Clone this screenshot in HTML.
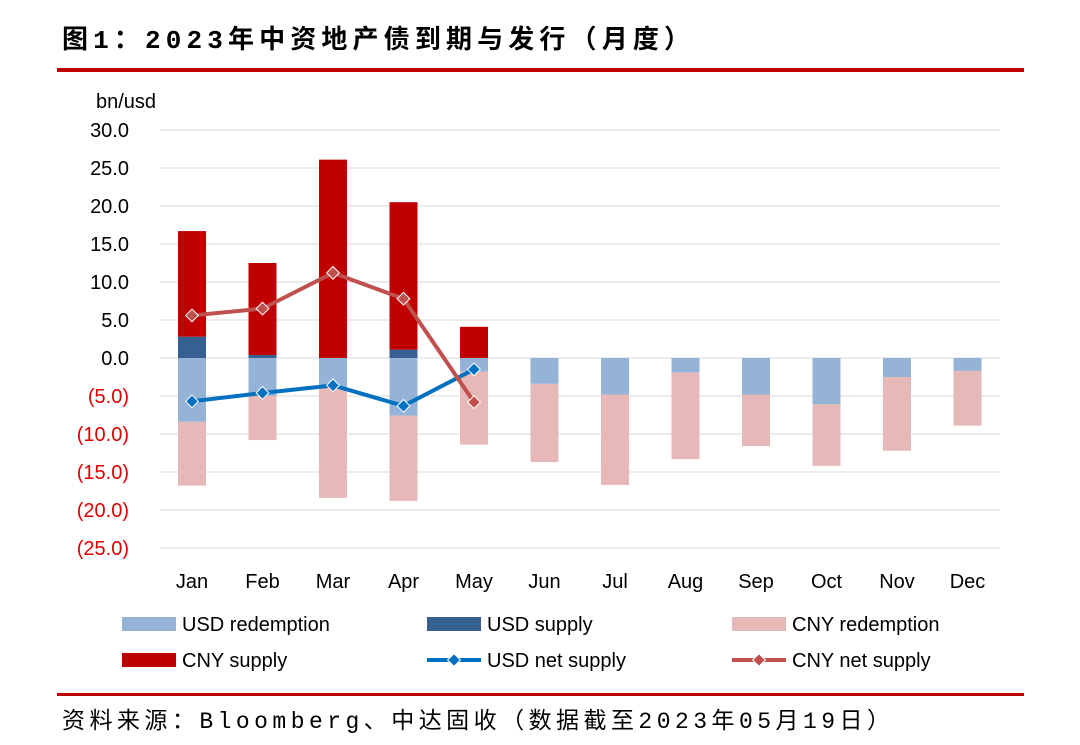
<!DOCTYPE html>
<html><head><meta charset="utf-8"><style>
body{margin:0;background:#fff;width:1080px;height:740px;overflow:hidden;font-family:"Liberation Sans","Noto Sans CJK SC",sans-serif}
</style></head><body>
<svg id="c" width="1080" height="740" xmlns="http://www.w3.org/2000/svg">
<text x="62" y="48" font-size="26" font-weight="bold" textLength="628" lengthAdjust="spacing" font-family="'Liberation Mono','Noto Sans CJK SC',monospace" fill="#000">图1：2023年中资地产债到期与发行（月度）</text>
<rect x="57" y="68" width="967" height="4" fill="#c00000"/>
<text x="96" y="108" font-size="20" fill="#000">bn/usd</text>
<g id="grid"></g><g id="bars"></g><g id="lines"></g><g id="labels"></g>
<g id="legend"></g>
<rect x="57" y="693" width="967" height="3" fill="#c00000"/>
<text x="62" y="728" font-size="23" textLength="828" lengthAdjust="spacing" font-family="'Liberation Mono','Noto Sans CJK SC',monospace" fill="#000">资料来源：Bloomberg、中达固收（数据截至2023年05月19日）</text>
</svg>
<script>
const months=["Jan","Feb","Mar","Apr","May","Jun","Jul","Aug","Sep","Oct","Nov","Dec"];
const usdRedemption=[-8.4,-5.0,-3.8,-7.6,-1.8,-3.4,-4.8,-1.9,-4.8,-6.1,-2.5,-1.7];
const cnyRedemption=[-8.4,-5.8,-14.6,-11.2,-9.6,-10.3,-11.9,-11.4,-6.8,-8.1,-9.7,-7.2];
const usdSupply=[2.8,0.4,0,1.1,0,0,0,0,0,0,0,0];
const cnySupply=[13.9,12.1,26.1,19.4,4.1,0,0,0,0,0,0,0];
const usdNet=[-5.7,-4.6,-3.6,-6.3,-1.5];
const cnyNet=[5.6,6.5,11.2,7.8,-5.8];
const yTicks=[30,25,20,15,10,5,0,-5,-10,-15,-20,-25];
const NS="http://www.w3.org/2000/svg";
const y=v=>358-v*7.6;
const x=i=>192+i*70.5;
function mk(p,t,a){const e=document.createElementNS(NS,t);for(const k in a)e.setAttribute(k,a[k]);document.getElementById(p).appendChild(e);return e;}
yTicks.forEach(v=>{
 const g=mk("grid","line",{x1:160,x2:1000,y1:y(v),y2:y(v),stroke:"#d9d9d9","stroke-width":1});
 
 
 const t=mk("labels","text",{x:129,y:y(v)+7,"font-size":20,"text-anchor":"end",fill:v<0?"#e00000":"#000"});
 t.textContent=v<0?"("+(-v).toFixed(1)+")":v.toFixed(1);
 
 
});
months.forEach((m,i)=>{
 const t=mk("labels","text",{x:x(i),y:588,"font-size":20,"text-anchor":"middle",fill:"#000"});
 t.textContent=m;
 
 
 const w=28,bx=x(i)-w/2;
 const r1=mk("bars","rect",{x:bx,y:y(0),width:w,height:-usdRedemption[i]*7.6,fill:"#95b3d7"});
 
 
 const r2=mk("bars","rect",{x:bx,y:y(usdRedemption[i]),width:w,height:-cnyRedemption[i]*7.6,fill:"#e6b9b8"});
 
 
 if(usdSupply[i]>0){const r3=mk("bars","rect",{x:bx,y:y(usdSupply[i]),width:w,height:usdSupply[i]*7.6,fill:"#366092"});
 
 }
 if(cnySupply[i]>0){const r4=mk("bars","rect",{x:bx,y:y(usdSupply[i]+cnySupply[i]),width:w,height:cnySupply[i]*7.6,fill:"#c00000"});
 
 }
});
function series(arr,col,name){
 const p=mk("lines","polyline",{points:arr.map((v,i)=>x(i)+","+y(v)).join(" "),fill:"none",stroke:col,"stroke-width":4});
 
 
 arr.forEach((v,i)=>{const d=mk("lines","rect",{x:x(i)-4.5,y:y(v)-4.5,width:9,height:9,fill:col,stroke:"#fff","stroke-width":1,transform:`rotate(45 ${x(i)} ${y(v)})`});
 
 });
}
series(usdNet,"#0070c0","usd-net-supply");
series(cnyNet,"#c0504d","cny-net-supply");
const leg=[["USD redemption","#95b3d7",122,624,"bar"],["USD supply","#366092",427,624,"bar"],["CNY redemption","#e6b9b8",732,624,"bar"],["CNY supply","#c00000",122,660,"bar"],["USD net supply","#0070c0",427,660,"line"],["CNY net supply","#c0504d",732,660,"line"]];
leg.forEach(l=>{
 const g=mk("legend","g",{});
 
 
 if(l[4]=="bar"){const r=document.createElementNS(NS,"rect");r.setAttribute("x",l[2]);r.setAttribute("y",l[3]-7);r.setAttribute("width",54);r.setAttribute("height",14);r.setAttribute("fill",l[1]);g.appendChild(r);}
 else{const ln=document.createElementNS(NS,"line");ln.setAttribute("x1",l[2]);ln.setAttribute("x2",l[2]+54);ln.setAttribute("y1",l[3]);ln.setAttribute("y2",l[3]);ln.setAttribute("stroke",l[1]);ln.setAttribute("stroke-width",4);g.appendChild(ln);
 const d=document.createElementNS(NS,"rect");d.setAttribute("x",l[2]+22.5);d.setAttribute("y",l[3]-4.5);d.setAttribute("width",9);d.setAttribute("height",9);d.setAttribute("fill",l[1]);d.setAttribute("stroke","#fff");d.setAttribute("transform",`rotate(45 ${l[2]+27} ${l[3]})`);g.appendChild(d);}
 const t=document.createElementNS(NS,"text");t.setAttribute("x",l[2]+60);t.setAttribute("y",l[3]+7);t.setAttribute("font-size",20);t.textContent=l[0];g.appendChild(t);
});
</script>
</body></html>
